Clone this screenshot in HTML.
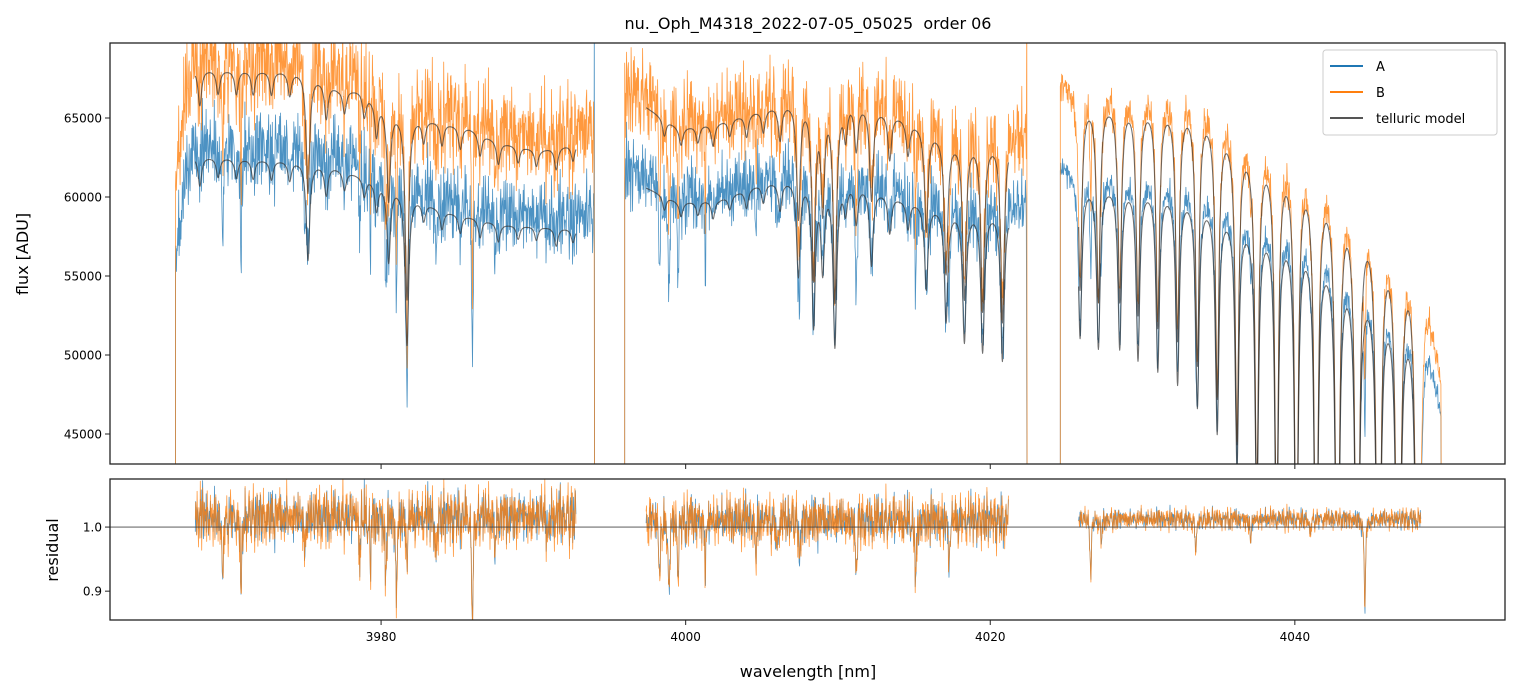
<!DOCTYPE html>
<html><head><meta charset="utf-8"><style>
html,body{margin:0;padding:0;background:#fff;overflow:hidden;width:1520px;height:696px;}
svg{display:block;position:absolute;left:0;top:0;font-family:"DejaVu Sans","Liberation Sans",sans-serif;}
</style></head><body>
<svg id="chart" width="1520" height="696" viewBox="0 0 1520 696" xmlns="http://www.w3.org/2000/svg">
<defs>
<clipPath id="clipMain"><rect x="110" y="43" width="1395" height="421"/></clipPath>
<clipPath id="clipRes"><rect x="110" y="479" width="1395" height="141"/></clipPath>
</defs>
<rect x="0" y="0" width="1520" height="696" fill="#fff"/>
<text x="808" y="29" text-anchor="middle" font-size="16" fill="#000" style="white-space:pre">nu._Oph_M4318_2022-07-05_05025  order 06</text>
<g id="mainSeries" clip-path="url(#clipMain)"></g>
<g id="resSeries" clip-path="url(#clipRes)"></g>
<rect x="110" y="43" width="1395" height="421" fill="none" stroke="#222" stroke-width="1.3"/>
<rect x="110" y="479" width="1395" height="141" fill="none" stroke="#222" stroke-width="1.3"/>
<g id="axes"></g>
<text x="28" y="254" text-anchor="middle" font-size="16" transform="rotate(-90 28 254)">flux [ADU]</text>
<text x="58" y="550" text-anchor="middle" font-size="16" transform="rotate(-90 58 550)">residual</text>
<text x="808" y="677" text-anchor="middle" font-size="16">wavelength [nm]</text>
<g>
<rect x="1323" y="50" width="174" height="85" rx="3" fill="#fff" fill-opacity="0.85" stroke="#ccc" stroke-width="1"/>
<line x1="1330" y1="66" x2="1363" y2="66" stroke="#1f77b4" stroke-width="2"/>
<text x="1376" y="71" font-size="13">A</text>
<line x1="1330" y1="92" x2="1363" y2="92" stroke="#ff7f0e" stroke-width="2"/>
<text x="1376" y="97" font-size="13">B</text>
<line x1="1330" y1="118" x2="1363" y2="118" stroke="#555" stroke-width="2"/>
<text x="1376" y="123" font-size="13">telluric model</text>
</g>
</svg>
<script>
// ---- data ----
const xTicks = [3980, 4000, 4020, 4040];
const yTicksMain = [45000, 50000, 55000, 60000, 65000];
const yTicksRes = [0.9, 1.0];
const modelSegs = [[3967.8, 3992.8], [3997.4, 4021.2], [4025.8, 4048.3]];
const obsSegs = [[3966.5, 3994.0], [3996.0, 4022.4], [4024.6, 4049.6]];
const contA = [[3966.5,55000],[3967.2,60500],[3967.8,62600],[3972,62400],[3975,62300],[3977,61900],[3981,60700],[3984,59200],[3988,58300],[3992.8,58000],[3994,58100],
  [3996,61000],[3997.4,60600],[3999.6,59700],[4002.2,59900],[4004.9,60900],[4007.5,61300],[4010.8,61100],[4014.1,60000],[4017.4,59300],[4021.2,59200],[4022.4,59000],
  [4024.6,61200],[4025.8,61000],[4028.6,61000],[4031.2,60800],[4033.8,60200],[4037.1,58700],[4040.4,58100],[4043,56200],[4045,54900],[4047.6,53000],[4048.6,51500],[4049.6,46000]];
const contB = [[3966.5,60000],[3967.2,65500],[3967.8,68100],[3975,68000],[3977.2,66900],[3978.6,66800],[3981.2,65400],[3983.9,64800],[3985.8,64400],[3987.8,63500],[3990.4,63000],[3992.8,63400],[3994,63300],
  [3996,66000],[3997.4,65700],[3999.6,64400],[4002.2,64800],[4004.9,65600],[4007.5,66300],[4010.8,66300],[4014.1,65200],[4017.4,63800],[4021.2,63600],[4022.4,63300],
  [4024.6,66500],[4025.8,66200],[4028.6,66300],[4033.8,66000],[4037.1,63600],[4040.4,62500],[4043,60700],[4045,59200],[4047.6,56700],[4048.6,54500],[4049.6,48000]];
const telluricLines = [
  [3968.1,.03],[3969.3,.02],[3970.5,.02],[3971.6,.02],[3972.8,.02],[3974.0,.02],[3975.2,.10],[3976.4,.03],[3977.6,.02],[3978.9,.02],[3979.7,.03],[3980.5,.08],[3981.7,.16],
  [3982.8,.02],[3984.0,.02],[3985.2,.02],[3986.5,.02],[3987.7,.02],[3989.0,.015],[3990.2,.015],[3991.5,.02],[3992.6,.015],
  [3998.6,.015],[3999.7,.015],[4000.8,.015],[4001.8,.02],[4002.9,.015],[4004.0,.02],[4005.1,.02],[4006.2,.03],
  [4007.4,.10],[4008.4,.15],[4009.0,.09],[4009.8,.17],[4010.5,.03],[4011.2,.04],[4012.2,.08],[4013.4,.04],[4014.6,.03],[4015.8,.09],[4017.1,.12],[4018.3,.14],[4019.5,.15],[4020.8,.16],
  [4025.9,.16],[4027.1,.17],[4028.5,.17],[4029.7,.18],[4031.0,.19],[4032.3,.2],[4033.6,.22],[4034.9,.24],[4036.2,.27],[4037.5,.31],[4038.8,.35],[4040.1,.4],
  [4041.4,.45],[4042.8,.5],[4044.1,.55],[4045.5,.6],[4046.8,.65],[4048.1,.7]];
const residualDips = [[3969.6,.12],[3970.8,.14],[3975.0,.06],[3978.6,.06],[3979.3,.08],[3980.3,.1],[3981.0,.13],[3981.7,.08],[3983.6,.08],[3986.0,.18],[3987.5,.06],[3991.0,.04],
  [3998.3,.1],[3998.9,.14],[3999.5,.08],[4001.3,.08],[4004.6,.06],[4006.0,.06],[4007.5,.08],[4011.2,.1],[4015.1,.12],[4017.3,.08],
  [4026.6,.09],[4027.3,.04],[4033.5,.06],[4037.1,.04],[4041.0,.03],[4044.6,.15]];
const resAmp = [0.065, 0.058, 0.024];
const resOffset = [0.015, 0.01, 0.012];
const J1 = [0.3,-0.6,0.9,-0.2,0.5,-0.9,0.1,0.7,-0.4,-0.8,0.6,0.2,-0.5,1.0,-0.3,0.4,-0.7,0.8,-0.1,0.2,-1.0,0.6,0.3,-0.6,0.9,-0.4,0.1,-0.8,0.5];
const J2 = [-0.4,0.8,0.1,-0.9,0.5,0.3,-0.2,-0.7,1.0,-0.5,0.2,0.6,-0.8,0.4,-0.1,0.9,-0.6,-0.3,0.7,0.0,-1.0,0.5,0.8,-0.2,-0.6,0.3,0.9,-0.7,0.1,-0.4,0.6,-0.9,0.2,0.7,-0.5,0.4,-0.1,-0.8,1.0,0.3,-0.3];
const J3 = [0.9,-0.5,-0.2,0.6,-0.9,0.3,0.8,-0.7,0.1,-0.3,0.7,-0.8,0.4,0.2,-0.6,1.0,-0.4];
const edgeA = [[3994.0,72000],[3994.02,40000]];
const edgeB = [[3996.0,68500],[4022.4,72000],[4022.42,40000]];

// ---- axes ----
const X0=110, X1=1505, W0=3962.2, W1=4053.8;
const xs = w => X0 + (w - W0) / (W1 - W0) * (X1 - X0);
const FT=69747, FB=43101;
const ym = v => 43 + (FT - v) / (FT - FB) * 421;
const RT=1.075, RB=0.855;
const yr = r => 479 + (RT - r) / (RT - RB) * 141;
const NS = 'http://www.w3.org/2000/svg';

function interp(c, w){
  if (w <= c[0][0]) return c[0][1];
  for (let i=1;i<c.length;i++){ if (w <= c[i][0]){ const t=(w-c[i-1][0])/(c[i][0]-c[i-1][0]); return c[i-1][1]+t*(c[i][1]-c[i-1][1]); } }
  return c[c.length-1][1];
}
function lineFactor(w, scale){
  let f=1;
  for (const [l,d] of telluricLines){ const u=(w-l)/0.14; f *= 1 - d*scale/(1+u*u); }
  return f;
}
function noise(i, off){ return 0.5*J1[(i+off)%29] + 0.35*J2[(i*3+off)%41] + 0.15*J3[(i*7+off)%17]; }
function residual(w, i, seg, off){
  let r = 1 + resOffset[seg] + resAmp[seg]*(0.85*noise(i,0) + 0.35*noise(i+off, off));
  for (const [l,d] of residualDips){ const u=(w-l)/0.05; r -= d/(1+u*u); }
  return r;
}
function addPath(g, pts, color, width, opacity, name){
  const p = document.createElementNS(NS,'path');
  p.setAttribute('d', 'M' + pts.map(q => q[0].toFixed(1)+','+q[1].toFixed(1)).join('L'));
  p.setAttribute('fill','none'); p.setAttribute('stroke',color);
  p.setAttribute('stroke-width',width); p.setAttribute('stroke-opacity',opacity);
  p.setAttribute('stroke-linejoin','round');
  
  
  g.appendChild(p);
}
const STEP = 0.03;
const gm = document.getElementById('mainSeries');
const gr = document.getElementById('resSeries');
const colA = '#1f77b4', colB = '#ff7f0e';

[['A', contA, colA, 3, 1.0, edgeA], ['B', contB, colB, 11, 1.12, edgeB]].forEach(([nm, cont, col, off, sc, edge]) => {
  obsSegs.forEach((s, k) => {
    const pts = [[xs(s[0]), ym(40000)]];
    let i = Math.round(s[0]/STEP);
    for (let w=s[0]; w<=s[1]; w+=STEP, i++){
      const v = interp(cont, w) * lineFactor(w, sc) * residual(w, i, k, off);
      pts.push([xs(w), ym(v)]);
    }
    edge.forEach(e => { if (e[0] >= s[1]-0.01 && e[0] <= s[1]+0.05) pts.push([xs(e[0]), ym(e[1])]); });
    if (k===1 && nm==='B') pts.unshift([xs(edge[0][0]), ym(edge[0][1])]);
    pts.push([xs(s[1]+0.02), ym(40000)]);
    addPath(gm, pts, col, 0.8, 0.8, 'observed-' + nm.toLowerCase() + '-segment-' + (k+1));
  });
});
[['a', contA, 1.0], ['b', contB, 1.12]].forEach(([nm, cont, sc]) => {
  modelSegs.forEach((s, k) => {
    const pts = [];
    for (let w=s[0]; w<=s[1]; w+=STEP/1.5) pts.push([xs(w), ym(interp(cont, w) * lineFactor(w, sc))]);
    addPath(gm, pts, '#333', 1.1, 0.7, 'telluric-model-' + nm + '-segment-' + (k+1));
  });
});
const rl = document.createElementNS(NS,'line');
rl.setAttribute('x1',X0); rl.setAttribute('x2',X1); rl.setAttribute('y1',yr(1)); rl.setAttribute('y2',yr(1));
rl.setAttribute('stroke','#444'); rl.setAttribute('stroke-width','0.8');


[['a', colA, 3], ['b', colB, 11]].forEach(([nm, col, off]) => {
  modelSegs.forEach((s, k) => {
    const pts = [];
    let i = Math.round(s[0]/STEP);
    for (let w=s[0]; w<=s[1]; w+=STEP, i++) pts.push([xs(w), yr(residual(w, i, k, off))]);
    addPath(gr, pts, col, 0.8, 0.8, 'residual-' + nm + '-segment-' + (k+1));
  });
});
gr.appendChild(rl);

const ga = document.getElementById('axes');
function mk(tag, attrs, name, txt){
  const e = document.createElementNS(NS, tag);
  for (const k in attrs) e.setAttribute(k, attrs[k]);
  
  
  if (txt !== undefined) e.textContent = txt;
  ga.appendChild(e);
}
xTicks.forEach(t => {
  const x = xs(t);
  mk('line', {x1:x, x2:x, y1:464, y2:469, stroke:'#222', 'stroke-width':1}, 'x-tick-main-' + t);
  mk('line', {x1:x, x2:x, y1:620, y2:625, stroke:'#222', 'stroke-width':1}, 'x-tick-' + t);
  mk('text', {x:x, y:641, 'text-anchor':'middle', 'font-size':12}, 'x-tick-label-' + t, String(t));
});
yTicksMain.forEach(t => {
  const y = ym(t);
  mk('line', {x1:105, x2:110, y1:y, y2:y, stroke:'#222', 'stroke-width':1}, 'y-tick-' + t);
  mk('text', {x:102, y:y+4.5, 'text-anchor':'end', 'font-size':12}, 'y-tick-label-' + t, String(t));
});
yTicksRes.forEach(t => {
  const y = yr(t);
  mk('line', {x1:105, x2:110, y1:y, y2:y, stroke:'#222', 'stroke-width':1}, 'residual-y-tick-' + t);
  mk('text', {x:102, y:y+4.5, 'text-anchor':'end', 'font-size':12}, 'residual-y-tick-label-' + t, t.toFixed(1));
});
</script>
</body></html>
